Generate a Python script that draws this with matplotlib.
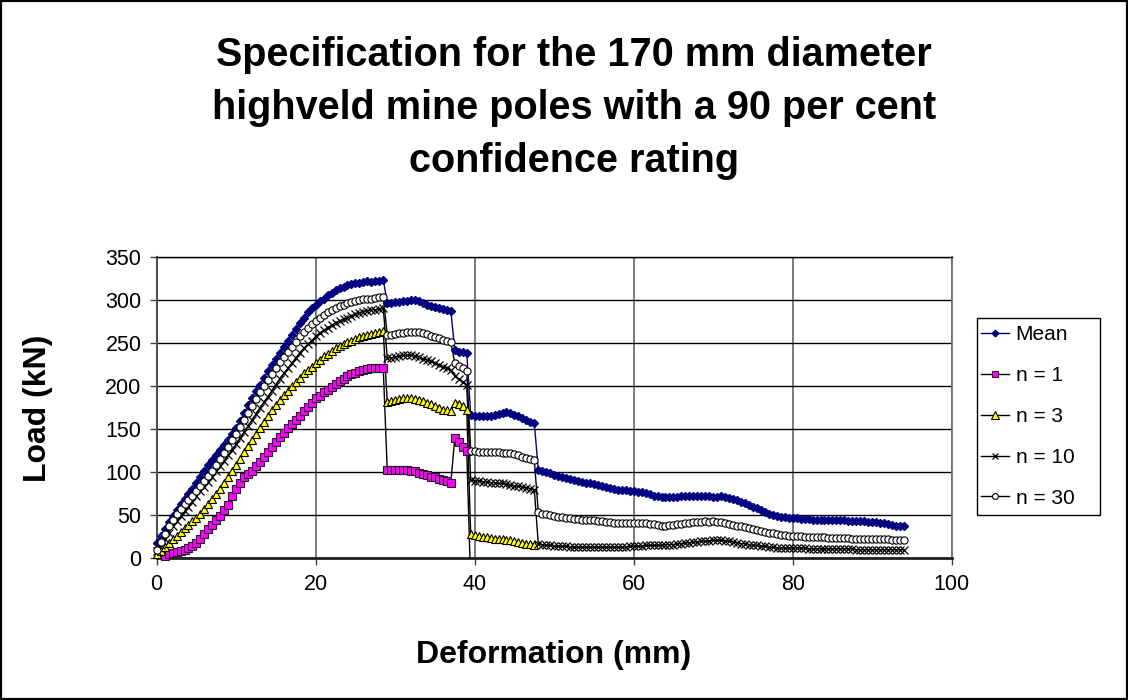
import numpy as np
import matplotlib
matplotlib.use("Agg")
import matplotlib.pyplot as plt
from matplotlib.lines import Line2D
from matplotlib.patches import Rectangle

plt.rcParams['font.family'] = ['Liberation Sans', 'DejaVu Sans']

# Deformation readings are logged every 0.5 mm
STEP_MM = 0.5

load_mean = [
    18, 26, 34, 42, 49, 56, 63, 69, 75, 81,
    87, 94, 101, 108, 114, 120, 126, 132, 138, 145,
    152, 160, 169, 178, 187, 195, 202, 210, 218, 225,
    232, 239, 246, 253, 260, 267, 274, 280, 286, 291,
    295, 299, 302, 306, 309, 312, 314, 316, 318, 319,
    320, 320, 321, 322, 321, 322, 323, 324, 297, 297,
    298, 298, 299, 299, 300, 300, 299, 297, 295, 293,
    292, 291, 290, 289, 288, 242, 240, 240, 239, 167,
    166, 166, 166, 166, 166, 167, 168, 169, 170, 169,
    167, 165, 163, 161, 159, 157, 103, 101, 100, 99,
    97, 96, 94, 93, 92, 91, 90, 89, 88, 87,
    86, 85, 84, 83, 82, 81, 80, 80, 79, 78,
    78, 77, 77, 76, 75, 73, 72, 71, 71, 71,
    71, 71, 72, 72, 72, 73, 73, 72, 73, 72,
    71, 71, 72, 71, 70, 69, 68, 66, 64, 62,
    60, 58, 56, 54, 52, 50, 49, 48, 48, 47,
    47, 47, 46, 46, 46, 45, 45, 45, 45, 44,
    44, 44, 44, 44, 43, 43, 43, 43, 43, 42,
    42, 42, 41, 41, 40, 39, 38, 37, 37,
]

load_n1 = [
    np.nan, np.nan, 3, 5, 6, 7, 9, 10, 12, 14,
    18, 23, 28, 34, 39, 44, 49, 56, 62, 72,
    81, 88, 94, 98, 102, 107, 112, 118, 124, 129,
    135, 141, 146, 151, 156, 161, 166, 171, 176, 181,
    186, 189, 193, 196, 199, 203, 206, 209, 212, 214,
    216, 218, 219, 220, 221, 221, 221, 221, 103, 103,
    103, 103, 103, 103, 102, 101, 99, 98, 97, 95,
    94, 92, 91, 90, 88, 140, 135, 130, 125, -30,
]

load_n3 = [
    5, 9, 13, 18, 22, 26, 31, 35, 39, 43,
    47, 52, 57, 63, 69, 75, 81, 88, 95, 102,
    109, 116, 124, 131, 138, 145, 152, 159, 166, 172,
    178, 184, 190, 195, 200, 205, 210, 215, 219, 223,
    227, 231, 235, 238, 241, 244, 247, 249, 251, 253,
    255, 257, 259, 260, 261, 262, 263, 264, 182, 183,
    184, 185, 186, 186, 186, 185, 184, 183, 181, 179,
    177, 175, 173, 172, 171, 181, 180, 177, 173, 28,
    27, 26, 25, 25, 24, 23, 22, 22, 21, 21,
    20, 19, 18, 17, 17, 16,
]

load_n10 = [
    8, 15, 23, 30, 37, 43, 49, 55, 60, 66,
    72, 78, 83, 89, 95, 101, 107, 113, 120, 126,
    133, 140, 147, 154, 161, 168, 175, 182, 188, 195,
    202, 209, 215, 221, 227, 233, 239, 244, 249, 253,
    258, 262, 265, 268, 271, 274, 276, 278, 280, 282,
    284, 285, 287, 288, 289, 289, 290, 291, 233, 233,
    234, 235, 236, 236, 236, 235, 234, 232, 231, 229,
    227, 225, 223, 221, 219, 212, 208, 205, 201, 91,
    90, 90, 89, 89, 88, 88, 87, 87, 86, 85,
    84, 84, 83, 82, 81, 80, 17, 16, 15, 15,
    14, 14, 14, 14, 13, 13, 13, 13, 13, 13,
    13, 13, 13, 13, 13, 13, 13, 13, 13, 14,
    14, 14, 14, 15, 15, 15, 15, 15, 16, 16,
    16, 17, 17, 18, 18, 19, 19, 20, 20, 20,
    21, 21, 21, 20, 20, 19, 18, 17, 17, 16,
    15, 15, 14, 14, 13, 13, 12, 12, 12, 12,
    12, 12, 12, 12, 11, 11, 11, 11, 11, 11,
    11, 11, 11, 11, 11, 11, 10, 10, 10, 10,
    10, 10, 10, 10, 10, 10, 10, 10, 10,
]

load_n30 = [
    10, 19, 28, 37, 44, 51, 57, 63, 68, 73,
    78, 84, 90, 96, 102, 109, 116, 123, 130, 137,
    145, 153, 161, 169, 177, 185, 193, 200, 207, 214,
    221, 228, 234, 240, 246, 252, 258, 263, 268, 272,
    276, 280, 283, 286, 289, 291, 293, 295, 297, 298,
    299, 300, 301, 302, 302, 303, 304, 304, 260, 260,
    261, 262, 262, 263, 263, 263, 263, 262, 261, 259,
    257, 256, 254, 253, 251, 227, 224, 221, 218, 125,
    125, 124, 124, 124, 124, 124, 124, 123, 123, 122,
    121, 120, 118, 117, 115, 114, 54, 52, 51, 50,
    49, 48, 48, 47, 47, 46, 46, 45, 45, 44,
    44, 43, 43, 42, 42, 41, 41, 41, 41, 41,
    41, 41, 41, 41, 40, 40, 39, 38, 38, 39,
    39, 40, 40, 41, 41, 42, 42, 42, 43, 42,
    43, 42, 42, 41, 40, 39, 38, 37, 36, 35,
    34, 33, 32, 31, 30, 29, 28, 27, 27, 26,
    26, 26, 26, 25, 25, 25, 25, 25, 25, 24,
    24, 24, 24, 24, 24, 23, 23, 23, 23, 23,
    23, 22, 22, 22, 22, 21, 21, 21, 21,
]

labels = ["Mean", "n = 1", "n = 3", "n = 10", "n = 30"]
x_ticks = [0, 20, 40, 60, 80, 100]
y_ticks = [0, 50, 100, 150, 200, 250, 300, 350]

styles = {
    "Mean": dict(color="#000080", marker="D", markersize=4.2, mfc="#000080", mec="#000080", lw=1.0),
    "n = 1": dict(color="black", marker="s", markersize=6.2, mfc="#FF00FF", mec="#202020", mew=0.8, lw=1.0),
    "n = 3": dict(color="black", marker="^", markersize=6.4, mfc="#FFFF00", mec="black", mew=0.8, lw=1.0),
    "n = 10": dict(color="black", marker="x", markersize=5.2, mec="black", mew=0.9, lw=1.0),
    "n = 30": dict(color="black", marker="o", markersize=5.2, mfc="white", mec="black", mew=0.8, lw=1.0),
}


def deformation_for(values):
    return np.arange(len(values)) * STEP_MM


fig = plt.figure(figsize=(11.28, 7.0), dpi=100)
fig.patch.set_facecolor("white")
ax = fig.add_axes([0.1389, 0.2024, 0.7048, 0.4300])

series = [load_mean, load_n1, load_n3, load_n10, load_n30]
for name, values in zip(labels, series):
    y = np.asarray(values, dtype=float)
    x = deformation_for(y)
    st = styles[name]
    # connecting line is clipped to the plot area
    ax.plot(x, y, color=st["color"], lw=st["lw"], zorder=3)
    # markers only for readings inside the value range
    keep = y >= 0
    mk = {k: v for k, v in st.items() if k not in ("color", "lw")}
    ax.plot(x[keep], y[keep], linestyle="none", clip_on=False, zorder=4, **mk)

ax.set_xlim(0, 100)
ax.set_ylim(0, 350)
ax.set_xticks(x_ticks)
ax.set_yticks(y_ticks)
ax.tick_params(axis="both", direction="out", length=5, width=1, color="#404040",
               labelsize=15.5, pad=6)

ax.yaxis.grid(True, color="black", lw=1.0, zorder=1)
ax.xaxis.grid(True, color="#707070", lw=1.3, zorder=1)
ax.set_axisbelow(True)
for side, col, lw in [("left", "#505050", 1.5), ("bottom", "#202020", 2.0),
                      ("top", "black", 1.0), ("right", "#707070", 1.3)]:
    ax.spines[side].set_color(col)
    ax.spines[side].set_linewidth(lw)

fig.text(0.034, 0.4165, "Load (kN)", rotation=90, ha="center", va="center",
         fontsize=23, fontweight="bold")
fig.text(0.491, 0.064, "Deformation (mm)", ha="center", va="center",
         fontsize=23, fontweight="bold")
fig.text(0.509, 0.846,
         "Specification for the 170 mm diameter\nhighveld mine poles with a 90 per cent\nconfidence rating",
         ha="center", va="center", fontsize=28.5, fontweight="bold", linespacing=1.5)

handles = []
for name in labels:
    st = styles[name]
    hst = dict(st)
    hst["markersize"] = st["markersize"] * 0.8
    handles.append(Line2D([], [], **hst))
leg = fig.legend(handles, labels, loc="center left", bbox_to_anchor=(0.870, 0.405),
                 bbox_transform=fig.transFigure, frameon=False, fontsize=15,
                 handlelength=1.35, handletextpad=0.3, labelspacing=1.05,
                 borderpad=0.0, borderaxespad=0)

# legend box
fig.add_artist(Rectangle((977 / 1128, 1 - 515 / 700), 123 / 1128, 197 / 700,
                         transform=fig.transFigure, fill=False,
                         edgecolor="black", lw=1.0))

fig.add_artist(Rectangle((0, 0), 1, 1, transform=fig.transFigure, fill=False,
                         edgecolor="black", lw=3))

fig.savefig("out.png", dpi=100, facecolor="white")
